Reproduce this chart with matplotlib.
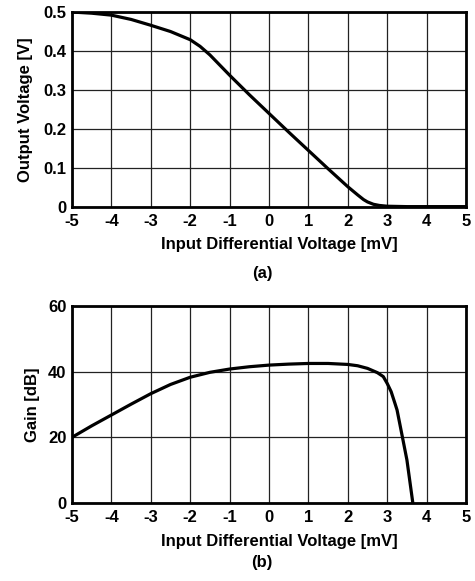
import numpy as np
import matplotlib.pyplot as plt

plt.rcParams['font.family'] = ['Liberation Sans', 'DejaVu Sans']
plt.rcParams['font.weight'] = 'bold'
plt.rcParams['axes.unicode_minus'] = False

# (a) output voltage vs input differential voltage
vin_a = [-5, -4.5, -4, -3.5, -3, -2.5, -2, -1.75, -1.5, -1.25, -1, -0.5, 0, 0.5, 1, 1.5, 2,
         2.25, 2.4, 2.5, 2.65, 2.8, 3, 3.5, 5]
vout = [0.5, 0.497, 0.492, 0.481, 0.466, 0.450, 0.429, 0.412, 0.390, 0.364, 0.338, 0.288, 0.240,
        0.192, 0.145, 0.098, 0.052, 0.031, 0.019, 0.013, 0.007, 0.004, 0.002, 0.001, 0.001]

# (b) gain vs input differential voltage
vin_b = [-5, -4.5, -4, -3.5, -3, -2.5, -2, -1.5, -1, -0.5, 0, 0.5, 1, 1.5, 2, 2.25, 2.5,
         2.75, 2.9, 3, 3.1, 3.2, 3.25, 3.4, 3.5, 3.65]
gain = [20, 23.5, 26.8, 30.1, 33.3, 36.1, 38.3, 39.8, 40.8, 41.5, 42.0, 42.3, 42.5, 42.5, 42.2,
        41.8, 41.0, 39.7, 38.5, 36.4, 33.9, 30.2, 28.3, 19.2, 13.1, 0]

xticks = [-5, -4, -3, -2, -1, 0, 1, 2, 3, 4, 5]

fig = plt.figure(figsize=(4.75, 5.81), dpi=100)
ax1 = fig.add_axes([0.1516, 0.6437, 0.8295, 0.3356])
ax2 = fig.add_axes([0.1516, 0.1343, 0.8295, 0.339])


def style(ax):
    ax.set_xlim(-5, 5)
    ax.set_xticks(xticks)
    ax.grid(True, color='#222222', linewidth=0.9)
    ax.set_axisbelow(True)
    ax.tick_params(length=0, labelsize=12)
    ax.tick_params(axis='x', pad=5)
    ax.tick_params(axis='y', pad=4)
    for s in ax.spines.values():
        s.set_linewidth(2)
    ax.set_xlabel('Input Differential Voltage [mV]', fontsize=12, fontweight='bold')
    ax.xaxis.set_label_coords(0.525, -0.155)


ax1.plot(vin_a, vout, color='black', linewidth=2.3)
style(ax1)
ax1.set_ylim(0, 0.5)
ax1.set_yticks([0, 0.1, 0.2, 0.3, 0.4, 0.5])
ax1.set_yticklabels(['0', '0.1', '0.2', '0.3', '0.4', '0.5'])
ax1.set_ylabel('Output Voltage [V]', fontsize=12, fontweight='bold')
ax1.yaxis.set_label_coords(-0.098, 0.5)

ax2.plot(vin_b, gain, color='black', linewidth=2.3)
style(ax2)
ax2.set_ylim(0, 60)
ax2.set_yticks([0, 20, 40, 60])
ax2.set_ylabel('Gain [dB]', fontsize=12, fontweight='bold')
ax2.yaxis.set_label_coords(-0.08, 0.5)

fig.text(262 / 475, 1 - 274 / 581, '(a)', ha='center', va='center', fontsize=12, fontweight='bold')
fig.text(262 / 475, 1 - 562 / 581, '(b)', ha='center', va='center', fontsize=12, fontweight='bold')

fig.savefig('out.png', dpi=100)
